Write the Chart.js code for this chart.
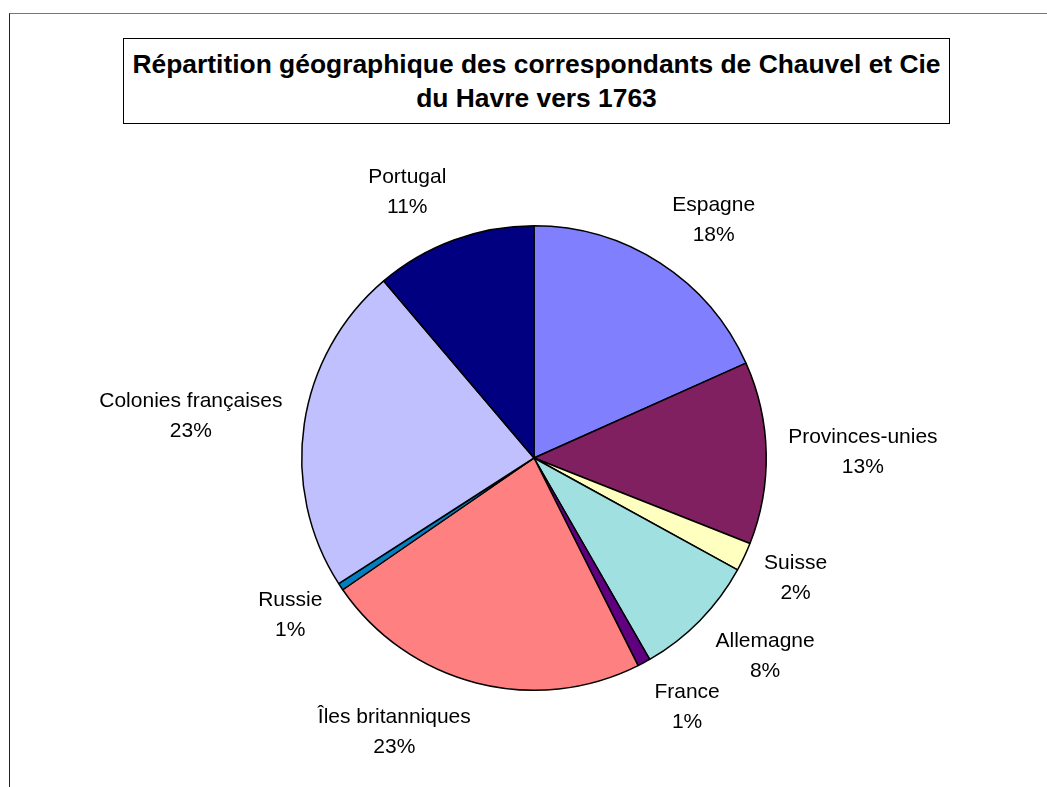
<!DOCTYPE html>
<html>
<head>
<meta charset="utf-8">
<script src="https://cdn.jsdelivr.net/npm/chart.js@4"></script>
<style>
  html, body { margin: 0; padding: 0; background: #fff; }
  #wrap { position: relative; width: 1047px; height: 787px; overflow: hidden; }
  #frame { position: absolute; left: 9px; top: 13px; right: -5px; bottom: -5px;
           border-top: 1px solid #777; border-left: 1px solid #222; }
  #title { position: absolute; left: 123px; top: 38px; width: 825px; height: 76px;
           border: 1px solid #000; background: #fff; box-sizing: content-box;
           font-family: "Liberation Sans", Arial, sans-serif; font-weight: bold;
           font-size: 26.4px; line-height: 34px; text-align: center; padding-top: 8px; color: #000; }
  canvas { position: absolute; left: 0; top: 0; }
</style>
</head>
<body>
<div id="wrap">
  <div id="frame"></div>
  <canvas id="pie" width="1047" height="787"></canvas>
  <div id="title">Répartition géographique des correspondants de Chauvel et Cie<br>du Havre vers 1763</div>
</div>
<script>
// données (part en %)
const categories = ['Espagne', 'Provinces-unies', 'Suisse', 'Allemagne', 'France',
                    'Îles britanniques', 'Russie', 'Colonies françaises', 'Portugal'];
const shares = [18.3, 12.7, 2.0, 8.7, 0.9, 22.8, 0.5, 22.9, 11.2];
const pctLabels = ['18%', '13%', '2%', '8%', '1%', '23%', '1%', '23%', '11%'];
const colors = ['#8080FF', '#802060', '#FFFFC0', '#A0E0E0', '#600080',
                '#FF8080', '#0080C0', '#C0C0FF', '#000080'];

const labelFont = '21px "Liberation Sans", Arial, sans-serif';

// étiquettes à l'extérieur : le coin de l'étiquette touche le rayon du milieu de la part
const outsideLabels = {
    id: 'outsideLabels',
    afterDatasetsDraw(chart) {
        const ctx = chart.ctx;
        const meta = chart.getDatasetMeta(0);
        ctx.save();
        ctx.font = labelFont;
        ctx.fillStyle = '#000';
        ctx.textAlign = 'center';
        ctx.textBaseline = 'middle';
        meta.data.forEach((arc, i) => {
            const mid = (arc.startAngle + arc.endAngle) / 2;
            const ux = Math.cos(mid), uy = Math.sin(mid);
            const hw = Math.max(ctx.measureText(categories[i]).width, ctx.measureText(pctLabels[i]).width) / 2;
            const hh = 29;
            const r = arc.outerRadius + 22;
            const cx = arc.x + ux * r + Math.sign(ux) * hw;
            const cy = arc.y + uy * r + uy * hh;
            ctx.fillText(categories[i], cx, cy - 15);
            ctx.fillText(pctLabels[i], cx, cy + 15);
        });
        ctx.restore();
    }
};

new Chart(document.getElementById('pie'), {
    type: 'pie',
    data: {
        labels: categories,
        datasets: [{
            data: shares,
            backgroundColor: colors,
            borderColor: '#000',
            borderWidth: 1.5
        }]
    },
    options: {
        responsive: false,
        animation: false,
        layout: { padding: { top: 225, bottom: 96, left: 301, right: 280 } },
        plugins: {
            legend: { display: false },
            tooltip: { enabled: false },
            title: { display: false }
        }
    },
    plugins: [outsideLabels]
});
</script>
</body>
</html>
